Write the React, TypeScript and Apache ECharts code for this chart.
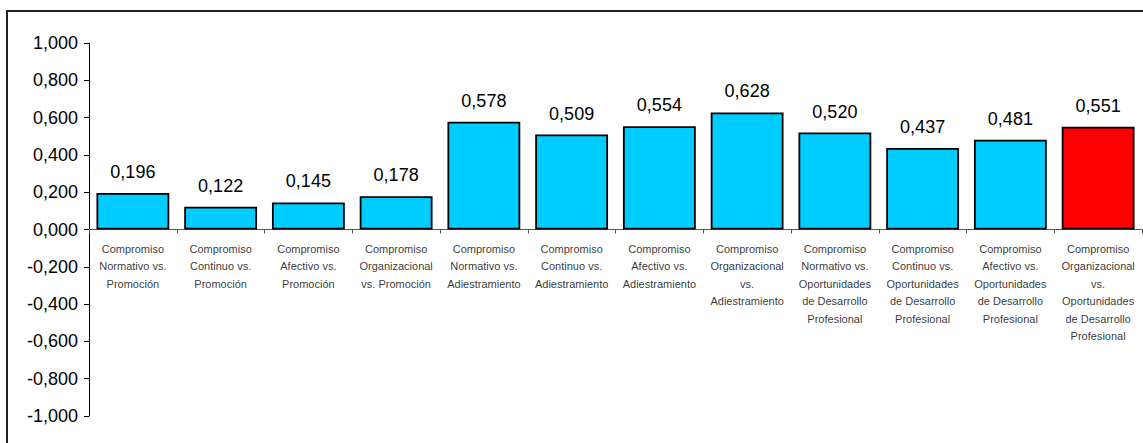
import React, { useEffect, useRef } from "react";
import * as echarts from "echarts";

const categories: string[] = [
  "Compromiso\nNormativo vs.\nPromoción",
  "Compromiso\nContinuo vs.\nPromoción",
  "Compromiso\nAfectivo vs.\nPromoción",
  "Compromiso\nOrganizacional\nvs. Promoción",
  "Compromiso\nNormativo vs.\nAdiestramiento",
  "Compromiso\nContinuo vs.\nAdiestramiento",
  "Compromiso\nAfectivo vs.\nAdiestramiento",
  "Compromiso\nOrganizacional\nvs.\nAdiestramiento",
  "Compromiso\nNormativo vs.\nOportunidades\nde Desarrollo\nProfesional",
  "Compromiso\nContinuo vs.\nOportunidades\nde Desarrollo\nProfesional",
  "Compromiso\nAfectivo vs.\nOportunidades\nde Desarrollo\nProfesional",
  "Compromiso\nOrganizacional\nvs.\nOportunidades\nde Desarrollo\nProfesional",
];

const values: number[] = [0.196, 0.122, 0.145, 0.178, 0.578, 0.509, 0.554, 0.628, 0.52, 0.437, 0.481, 0.551];

const barColors: string[] = [
  "#00CCFF", "#00CCFF", "#00CCFF", "#00CCFF", "#00CCFF", "#00CCFF",
  "#00CCFF", "#00CCFF", "#00CCFF", "#00CCFF", "#00CCFF", "#FF0000",
];

const fmt = (v: number) => v.toFixed(3).replace(".", ",");

export default function App() {
  const ref = useRef<HTMLDivElement>(null);
  useEffect(() => {
    if (!ref.current) return;
    const chart = echarts.init(ref.current, undefined, { renderer: "svg" });
    const font = "'Liberation Sans', Arial, sans-serif";
    chart.setOption({
      animation: false,
      backgroundColor: "#ffffff",
      textStyle: { fontFamily: font },
      graphic: [
        {
          type: "rect",
          shape: { x: 7, y: 11, width: 2000, height: 2000 },
          style: { fill: "none", stroke: "#222", lineWidth: 2 },
          silent: true,
        },
      ],
      grid: { left: 89, right: 1, top: 43, bottom: 27, containLabel: false, outerBoundsMode: "none" },
      xAxis: {
        type: "category",
        data: categories,
        axisLine: { onZero: true, lineStyle: { color: "#555", width: 1 } },
        axisTick: { show: true, interval: 0, alignWithLabel: false, length: 4, lineStyle: { color: "#555" } },
        axisLabel: { show: false, interval: 0 },
        splitLine: { show: false },
      },
      yAxis: {
        type: "value",
        min: -1,
        max: 1,
        interval: 0.2,
        axisLine: { show: true, lineStyle: { color: "#000", width: 1 } },
        axisTick: { show: true, length: 5, lineStyle: { color: "#000" } },
        axisLabel: {
          formatter: (v: number) => fmt(v),
          fontSize: 18,
          color: "#000",
          margin: 11,
          fontFamily: font,
        },
        splitLine: { show: false },
      },
      series: [
        {
          type: "bar",
          barCategoryGap: "17%",
          data: values.map((v, i) => ({
            value: v,
            itemStyle: { color: barColors[i], borderColor: "#000", borderWidth: 1.8 },
          })),
          label: {
            show: true,
            position: "top",
            distance: 12,
            fontSize: 18,
            color: "#000",
            fontFamily: font,
            formatter: (p: any) => fmt(p.value),
          },
        },
        {
          type: "scatter",
          symbol: "circle",
          symbolSize: 1,
          itemStyle: { color: "rgba(0,0,0,0)" },
          silent: true,
          data: categories.map(() => 0),
          label: {
            show: true,
            position: "bottom",
            distance: 10,
            fontSize: 11,
            lineHeight: 17.5,
            color: "#000",
            fontFamily: font,
            formatter: (p: any) => categories[p.dataIndex],
          },
          labelLayout: { hideOverlap: false },
          z: 5,
        },
      ],
    });
    return () => chart.dispose();
  }, []);
  return (
    <div
      ref={ref}
      style={{ position: "absolute", left: 0, top: 0, width: 1143, height: 443 }}
    />
  );
}
